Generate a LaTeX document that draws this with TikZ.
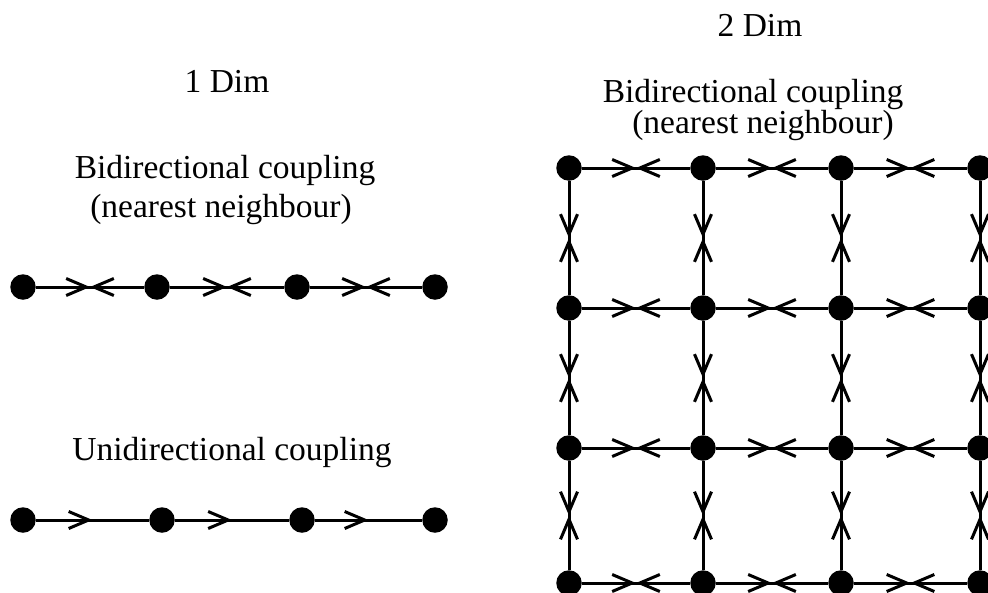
\documentclass[tikz,border=0pt]{standalone}
\usepackage{fontspec}
\setmainfont{Liberation Serif}
\usetikzlibrary{arrows.meta,decorations.markings}
\tikzset{
  dot/.style={circle,fill=black,inner sep=0pt,minimum size=25.5pt},
  lbl/.style={anchor=base,inner sep=0pt,font=\fontsize{33.5}{40}\selectfont},
  edge/.style={line width=3pt},
  bidir/.style={edge,decoration={markings,
      mark=at position 0.5 with {\arrow{Straight Barb[length=20pt,width=17pt,line width=3pt]}},
      mark=at position 0.5 with {\arrowreversed{Straight Barb[length=20pt,width=17pt,line width=3pt]}}},
      postaction={decorate}},
  unidir/.style={edge,decoration={markings,
      mark=at position 0.5 with {\arrow{Straight Barb[length=20pt,width=17pt,line width=3pt]}}},
      postaction={decorate}}
}
\begin{document}
\begin{tikzpicture}[x=1pt,y=-1pt]
\useasboundingbox (0,0) rectangle (988,592);
% labels
\node[lbl] (t1) at (227,92) {1 Dim};
\node[lbl] (b1) at (225,178) {Bidirectional coupling};
\node[lbl] (n1) at (221,217) {(nearest neighbour)};
\node[lbl] (u1) at (232,460) {Unidirectional coupling};
\node[lbl] (t2) at (760,36) {2 Dim};
\node[lbl] (b2) at (753,102) {Bidirectional coupling};
\node[lbl] (n2) at (763,133) {(nearest neighbour)};
% 1D bidirectional
\node[dot] (a1) at (23,287) {};
\node[dot] (a2) at (157,287) {};
\node[dot] (a3) at (297,287) {};
\node[dot] (a4) at (435,287) {};
\draw[bidir] (a1) -- (a2);
\draw[bidir] (a2) -- (a3);
\draw[bidir] (a3) -- (a4);
% 1D unidirectional
\node[dot] (c1) at (23,520) {};
\node[dot] (c2) at (162,520) {};
\node[dot] (c3) at (302,520) {};
\node[dot] (c4) at (435,520) {};
\draw[unidir] (c1) -- (c2);
\draw[unidir] (c2) -- (c3);
\draw[unidir] (c3) -- (c4);
% 2D grid
\foreach \i/\x in {1/569,2/703,3/841,4/980}{
  \foreach \j/\y in {1/168,2/308,3/448,4/583}{
    \node[dot] (g\i\j) at (\x,\y) {};
  }
}
\foreach \j in {1,2,3,4}{
  \draw[bidir] (g1\j) -- (g2\j);
  \draw[bidir] (g2\j) -- (g3\j);
  \draw[bidir] (g3\j) -- (g4\j);
}
\foreach \i in {1,2,3,4}{
  \draw[bidir] (g\i1) -- (g\i2);
  \draw[bidir] (g\i2) -- (g\i3);
  \draw[bidir] (g\i3) -- (g\i4);
}
\end{tikzpicture}
\end{document}
